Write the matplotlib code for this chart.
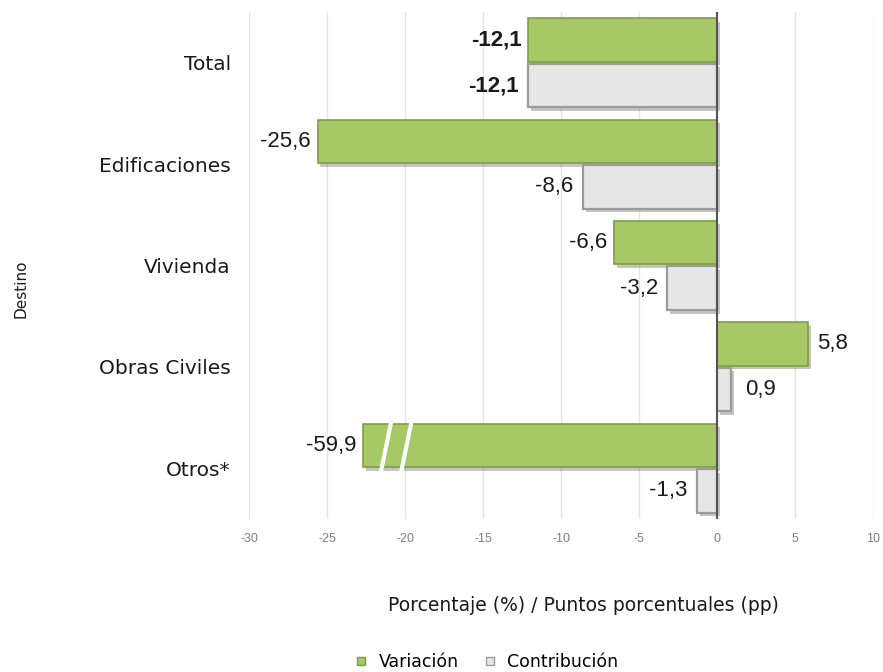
import matplotlib
matplotlib.use("Agg")
import matplotlib.pyplot as plt
import matplotlib.patheffects as pe
from matplotlib.lines import Line2D

# datos
categorias = ["Total", "Edificaciones", "Vivienda", "Obras Civiles", "Otros*"]
variacion = [-12.1, -25.6, -6.6, 5.8, -59.9]
contribucion = [-12.1, -8.6, -3.2, 0.9, -1.3]
ticks_x = [-30, -25, -20, -15, -10, -5, 0, 5, 10]

# corte del eje para la barra que se sale de escala
x_min, x_max = -30, 10
corte = -22.7

verde = "#A6C965"
verde_borde = "#7E9E45"
gris = "#E6E6E6"
gris_borde = "#9C9C9C"

plt.rcParams['font.family'] = ['Liberation Sans', 'DejaVu Sans']

fig = plt.figure(figsize=(8.83, 6.72), dpi=100)
ax = fig.add_axes([0.282, 0.228, 0.707, 0.754])

y = list(range(len(categorias)))
h = 0.43
sombra = [pe.SimplePatchShadow(offset=(2, -2.5), shadow_rgbFace="#8a8a8a", alpha=0.5), pe.Normal()]


def fmt(x):
    return f"{x:.1f}".replace(".", ",")


for i, (v, c) in enumerate(zip(variacion, contribucion)):
    ancho_v = corte if v < x_min else v
    ax.barh(i - 0.225, ancho_v, height=h, color=verde, edgecolor=verde_borde,
            linewidth=1.2, zorder=3, path_effects=sombra)
    ax.barh(i + 0.225, c, height=h, color=gris, edgecolor=gris_borde,
            linewidth=1.6, zorder=3, path_effects=sombra)

    peso = "bold" if categorias[i] == "Total" else "normal"
    # etiquetas de la variación
    if v < 0:
        ax.text(ancho_v - 0.45, i - 0.225, fmt(v), ha="right", va="center",
                fontsize=16, fontweight=peso, color="#1a1a1a", zorder=5)
    else:
        ax.text(ancho_v + 0.6, i - 0.225, fmt(v), ha="left", va="center",
                fontsize=16, fontweight=peso, color="#1a1a1a", zorder=5)
    # etiquetas de la contribución
    if c < 0:
        ax.text(c - 0.6, i + 0.225, fmt(c), ha="right", va="center",
                fontsize=16, fontweight=peso, color="#1a1a1a", zorder=5)
    else:
        ax.text(c + 0.9, i + 0.225, fmt(c), ha="left", va="center",
                fontsize=16, fontweight=peso, color="#1a1a1a", zorder=5)

# marca de corte en la barra de Otros*
for dx in (0, 1.3):
    ax.plot([-21.6 + dx, -20.8 + dx], [4 - 0.225 + 0.3, 4 - 0.225 - 0.3], color="white",
            linewidth=3, zorder=4, solid_capstyle="butt")

# linea del cero
ax.axvline(0, color="#555555", linewidth=1.5, zorder=4)

ax.set_xlim(x_min, x_max)
ax.set_ylim(len(categorias) - 0.5, -0.5)
ax.set_xticks(ticks_x)
ax.set_xticklabels([str(t) for t in ticks_x], color="#7f7f7f", fontsize=9)
ax.set_yticks(y)
ax.set_yticklabels(categorias, fontsize=14.5, color="#1a1a1a", family=["DejaVu Sans"])
ax.tick_params(axis="both", length=0)
ax.tick_params(axis="y", pad=13)
ax.tick_params(axis="x", pad=10)
ax.grid(axis="x", color="#e4e4e4", linewidth=1, zorder=0)
for s in ax.spines.values():
    s.set_visible(False)

ax.set_xlabel("Porcentaje (%) / Puntos porcentuales (pp)", fontsize=13.5,
              color="#1a1a1a", family=["DejaVu Sans"])
ax.xaxis.set_label_coords(0.535, -0.152)
fig.text(0.024, 0.57, "Destino", rotation=90, fontsize=11, color="#1a1a1a",
         ha="center", va="center", family=["DejaVu Sans"])

handles = [Line2D([], [], marker="s", linestyle="none", markersize=6,
                  markerfacecolor=verde, markeredgecolor=verde_borde),
           Line2D([], [], marker="s", linestyle="none", markersize=6,
                  markerfacecolor=gris, markeredgecolor=gris_borde)]
fig.legend(handles, ["Variación", "Contribución"], loc="center",
           bbox_to_anchor=(0.545, 0.015), ncol=2, frameon=False,
           handletextpad=0.0, columnspacing=0.8, prop={"family": "DejaVu Sans", "size": 12.5})

fig.savefig("out.png", dpi=100)
